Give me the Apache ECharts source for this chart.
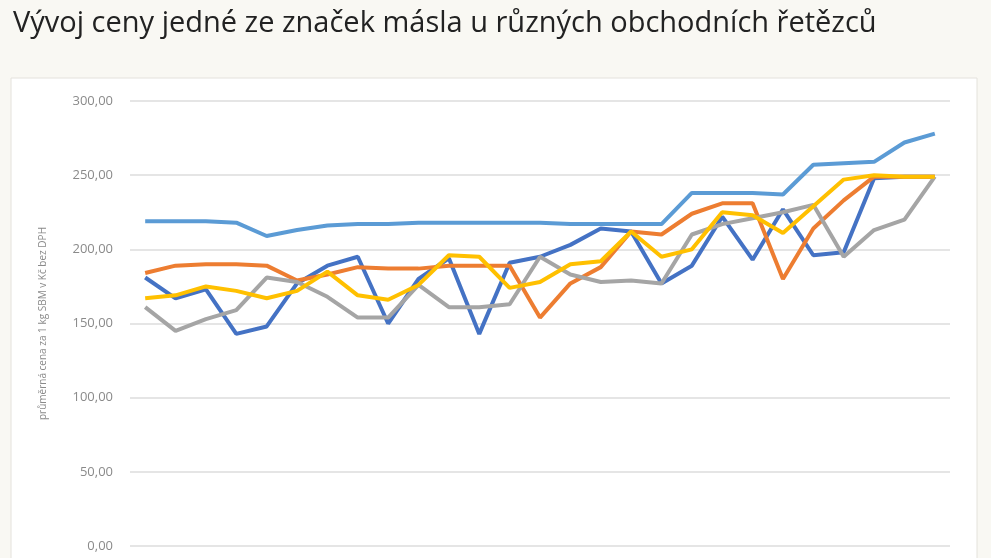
<!DOCTYPE html>
<html><head><meta charset="utf-8">
<script src="https://cdn.jsdelivr.net/npm/echarts@6/dist/echarts.min.js"></script>
<style>html,body{margin:0;padding:0;background:#f9f8f3}#c{width:991px;height:558px}</style>
</head><body><div id="c"></div>
<script>
const categories = Array.from({length:27},(_, i)=>String(i+1));
const s1 = [219,219,219,218,209,213,216,217,217,218,218,218,218,218,217,217,217,217,238,238,238,237,257,258,259,272,278];
const s2 = [181,167,173,143,148,177,189,195,150,180,194,143,191,195,203,214,212,177,189,222,193,227,196,198,248,249,249];
const s3 = [184,189,190,190,189,179,183,188,187,187,189,189,189,154,177,188,212,210,224,231,231,180,214,233,249,249,249];
const s4 = [161,145,153,159,181,178,168,154,154,176,161,161,163,195,183,178,179,177,210,217,221,225,230,195,213,220,249];
const s5 = [167,169,175,172,167,172,185,169,166,176,196,195,174,178,190,192,212,195,200,225,223,211,229,247,250,249,249];
const yTicks = {min:0,max:300,interval:50};
const chart = echarts.init(document.getElementById('c'));
const mk = (d,c)=>({type:'line',data:d,symbol:'none',lineStyle:{color:c,width:4},itemStyle:{color:c}});
chart.setOption({
  backgroundColor:'#f9f8f3',
  animation:false,
  graphic:[{type:'rect',shape:{x:11,y:78,width:966,height:490},style:{fill:'#ffffff',stroke:'#e4e2dc',lineWidth:1},z:-10}],
  title:{text:'Vývoj ceny jedné ze značek másla u různých obchodních řetězců',left:8,top:4,textStyle:{fontFamily:'Open Sans',fontSize:29,fontWeight:'normal',color:'#222'}},
  grid:{left:130,right:41,top:101,bottom:12},
  xAxis:{type:'category',data:categories,boundaryGap:true,axisLine:{show:false},axisTick:{show:false},axisLabel:{show:false}},
  yAxis:{type:'value',min:yTicks.min,max:yTicks.max,interval:yTicks.interval,
    name:'průměrná cena za 1 kg SBM v Kč bez DPH',nameLocation:'middle',nameGap:82,
    nameTextStyle:{color:'#8a8a8a',fontSize:10,fontFamily:'Open Sans'},
    axisLabel:{formatter:v=>v.toFixed(2).replace('.',','),color:'#8a8a8a',fontSize:13,fontFamily:'Open Sans',margin:17},
    splitLine:{lineStyle:{color:'#dddddd',width:1.5}}},
  series:[mk(s1,'#5b9bd5'),mk(s2,'#4472c4'),mk(s3,'#ed7d31'),mk(s4,'#a5a5a5'),mk(s5,'#ffc000')]
});
</script></body></html>
